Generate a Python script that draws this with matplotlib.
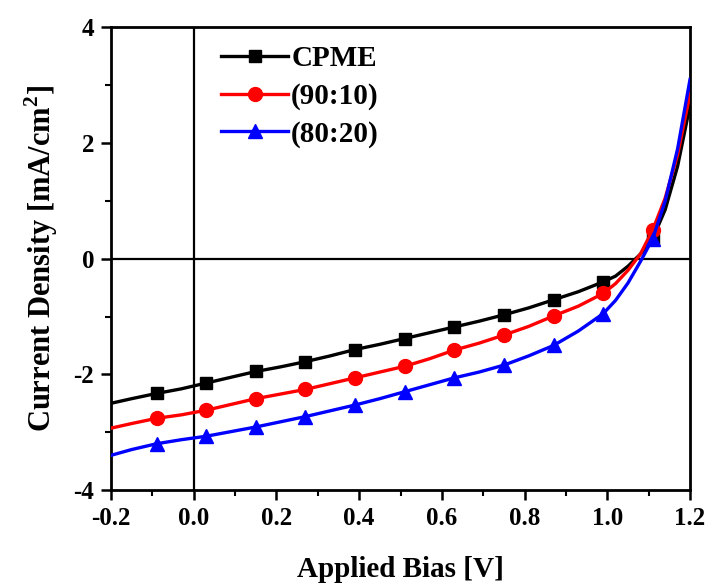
import matplotlib.pyplot as plt
from matplotlib.ticker import MultipleLocator

# Dane (J-V)
napiecie = [-0.2, -0.15, -0.09, -0.03, 0.03, 0.09, 0.15, 0.21, 0.27, 0.33,
            0.39, 0.45, 0.51, 0.57, 0.63, 0.69, 0.75, 0.81, 0.87, 0.93,
            0.99, 1.02, 1.05, 1.08, 1.11, 1.14, 1.17, 1.2]

cpme = [-2.50, -2.42, -2.33, -2.25, -2.15, -2.05, -1.95, -1.87, -1.78, -1.68,
        -1.57, -1.48, -1.38, -1.28, -1.18, -1.08, -0.97, -0.85, -0.71, -0.57,
        -0.40, -0.30, -0.13, 0.08, 0.35, 0.85, 1.60, 2.65]

p90_10 = [-2.93, -2.85, -2.76, -2.70, -2.62, -2.52, -2.42, -2.34, -2.26, -2.16,
          -2.06, -1.96, -1.86, -1.73, -1.58, -1.46, -1.32, -1.17, -0.99, -0.82,
          -0.60, -0.43, -0.20, 0.08, 0.50, 1.05, 1.80, 2.85]

p80_20 = [-3.40, -3.30, -3.20, -3.13, -3.07, -2.99, -2.91, -2.82, -2.73, -2.63,
          -2.53, -2.42, -2.30, -2.18, -2.06, -1.96, -1.84, -1.68, -1.50, -1.25,
          -0.95, -0.72, -0.42, -0.05, 0.35, 1.00, 1.90, 3.10]

etykiety = ['CPME', '(90:10)', '(80:20)']
kolory = ['black', 'red', 'blue']
znaczniki = ['s', 'o', '^']

# Indeksy punktow z markerami
z_markerami = [2, 4, 6, 8, 10, 12, 14, 16, 18, 20, 24]

plt.rcParams['font.family'] = ['Liberation Serif', 'DejaVu Serif']
plt.rcParams['font.weight'] = 'bold'
plt.rcParams['axes.unicode_minus'] = False
plt.rcParams['mathtext.fontset'] = 'custom'
plt.rcParams['mathtext.rm'] = 'Liberation Serif:bold'
plt.rcParams['mathtext.bf'] = 'Liberation Serif:bold'

fig = plt.figure(figsize=(7.09, 5.86), dpi=100)
ax = fig.add_axes([0.1566, 0.1638, 0.8166, 0.7893])

ax.axhline(0, color='black', lw=1.6, zorder=1)
ax.axvline(0, color='black', lw=1.6, zorder=1)

for y, et, k, m in zip([cpme, p90_10, p80_20], etykiety, kolory, znaczniki):
    ax.plot(napiecie, y, color=k, marker=m, markersize=10 if m != 's' else 9,
            lw=2.4, markevery=z_markerami, label=et, zorder=3)

ax.set_xlim(-0.2, 1.2)
ax.set_ylim(-4, 4)
ax.xaxis.set_minor_locator(MultipleLocator(0.1))
ax.yaxis.set_major_locator(MultipleLocator(2))
ax.yaxis.set_minor_locator(MultipleLocator(1))
ax.set_xticks([-0.2, 0.0, 0.2, 0.4, 0.6, 0.8, 1.0, 1.2])
ax.set_xticklabels(['-0.2', '0.0', '0.2', '0.4', '0.6', '0.8', '1.0', '1.2'])

ax.tick_params(which='major', direction='out', length=7, width=1.8,
               labelsize=18, pad=5)
ax.tick_params(which='minor', direction='out', length=4, width=1.5)
for s in ax.spines.values():
    s.set_linewidth(2)

ax.set_xlabel('Applied Bias [V]', fontsize=21, fontweight='bold', labelpad=19)
ax.set_ylabel(r'Current Density [mA/cm$^{\mathbf{2}}$]', fontsize=22,
              fontweight='bold', labelpad=10)

ax.legend(loc='upper left', bbox_to_anchor=(0.15, 1.012), frameon=False,
          fontsize=21, handlelength=2.3, handletextpad=0.1, labelspacing=0.36,
          borderpad=0.3)

plt.savefig('out.png', dpi=100)
